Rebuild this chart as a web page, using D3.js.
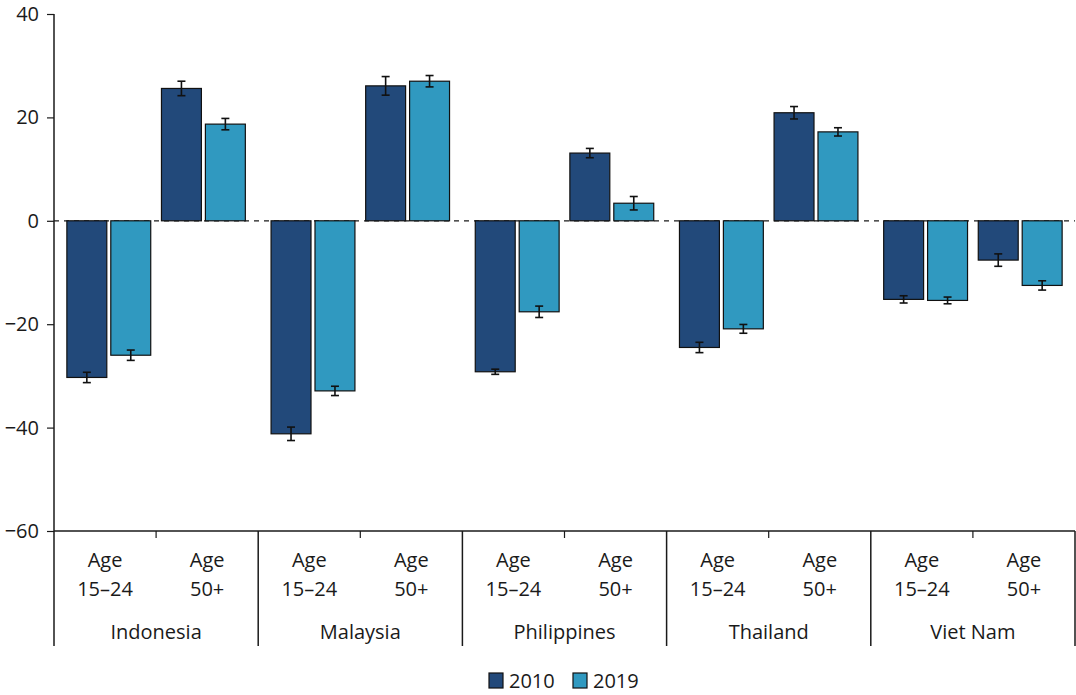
<!DOCTYPE html>
<html>
<head>
<meta charset="utf-8">
<script src="https://cdn.jsdelivr.net/npm/d3@7"></script>
<style>
  html, body { margin: 0; padding: 0; background: #fff; overflow: hidden; }
  svg { display: block; }
  text { font-family: 'Open Sans', sans-serif; fill: #1a1a1a; }
</style>
</head>
<body>
<svg id="chart" width="1076" height="695"></svg>
<script>
// data
const countries = ["Indonesia", "Malaysia", "Philippines", "Thailand", "Viet Nam"]
const ageGroups = ["Age 15–24", "Age 50+"]
const years = ["2010", "2019"]

// one array per age group and year, in country order
const values2010_young = [-30.3, -41.2, -29.2, -24.5, -15.2]
const values2019_young = [-26.0, -32.9, -17.6, -20.9, -15.4]
const values2010_old = [25.6, 26.1, 13.1, 20.9, -7.6]
const values2019_old = [18.7, 27.0, 3.4, 17.2, -12.5]
const err2010_young = [1.0, 1.3, 0.5, 1.0, 0.7]
const err2019_young = [1.0, 0.9, 1.1, 0.85, 0.65]
const err2010_old = [1.4, 1.8, 0.9, 1.2, 1.2]
const err2019_old = [1.1, 1.1, 1.3, 0.8, 0.9]
const yTicks = [40, 20, 0, -20, -40, -60]

const color = d3.scaleOrdinal().domain(years).range(["#22497a", "#3099c0"])

// flatten into rows for drawing
const rows = []
countries.forEach((c, i) => {
  rows.push({ country: c, age: ageGroups[0], year: "2010", value: values2010_young[i], err: err2010_young[i] })
  rows.push({ country: c, age: ageGroups[0], year: "2019", value: values2019_young[i], err: err2019_young[i] })
  rows.push({ country: c, age: ageGroups[1], year: "2010", value: values2010_old[i], err: err2010_old[i] })
  rows.push({ country: c, age: ageGroups[1], year: "2019", value: values2019_old[i], err: err2019_old[i] })
})

const margin = { top: 14, left: 54, right: 1, bottom: 164 }
const width = 1076
const innerWidth = width - margin.left - margin.right
const innerHeight = 695 - margin.top - margin.bottom

const svg = d3.select("#chart")
const g = svg.append("g").attr("transform", `translate(${margin.left},${margin.top})`)

const x0 = d3.scaleBand().domain(countries).range([0, innerWidth])
const x1 = d3.scaleBand().domain(ageGroups).range([0, x0.bandwidth()]).paddingInner(0.1135).paddingOuter(0.136)
const x2 = d3.scaleBand().domain(years).range([0, x1.bandwidth()]).paddingInner(0.0909)
// label positions: plain halves of each country
const xLabel = d3.scaleBand().domain(ageGroups).range([0, x0.bandwidth()])

const y = d3.scaleLinear().domain([-60, 40]).range([innerHeight, 0])

// y axis
const yAxis = g.append("g")
  .call(d3.axisLeft(y).tickValues(yTicks).tickSize(7).tickPadding(8))
yAxis.select(".domain").remove()
yAxis.selectAll("line").attr("stroke", "#1a1a1a").attr("stroke-width", 1.2)
yAxis.selectAll("text").style("font-size", "20px").attr("fill", "#1a1a1a")

g.append("line")
  .attr("x1", 0).attr("x2", 0)
  .attr("y1", 0).attr("y2", innerHeight + 115)
  .attr("stroke", "#1a1a1a").attr("stroke-width", 1.5)

// bottom axis line
g.append("line")
  .attr("x1", 0).attr("x2", innerWidth)
  .attr("y1", y(-60)).attr("y2", y(-60))
  .attr("stroke", "#1a1a1a").attr("stroke-width", 1.5)

// group separators and middle ticks
countries.forEach(c => {
  g.append("line")
    .attr("x1", x0(c) + x0.bandwidth()).attr("x2", x0(c) + x0.bandwidth())
    .attr("y1", innerHeight).attr("y2", innerHeight + 115)
    .attr("stroke", "#1a1a1a").attr("stroke-width", 1.5)
  g.append("line")
    .attr("x1", x0(c) + xLabel(ageGroups[1])).attr("x2", x0(c) + xLabel(ageGroups[1]))
    .attr("y1", innerHeight).attr("y2", innerHeight + 7)
    .attr("stroke", "#1a1a1a").attr("stroke-width", 1.2)
})

// zero line
g.append("line")
  .attr("x1", 0).attr("x2", innerWidth)
  .attr("y1", y(0)).attr("y2", y(0))
  .attr("stroke", "#1a1a1a").attr("stroke-width", 1.2)
  .attr("stroke-dasharray", "5,5")

const barX = d => x0(d.country) + x1(d.age) + x2(d.year)

// bars
g.selectAll(".bar")
  .data(rows)
  .join("rect")
  .attr("class", "bar")
  .attr("x", barX)
  .attr("width", x2.bandwidth())
  .attr("y", d => y(Math.max(0, d.value)))
  .attr("height", d => Math.abs(y(d.value) - y(0)))
  .attr("fill", d => color(d.year))
  .attr("stroke", "#111")
  .attr("stroke-width", 1.2)

// error bars
const errG = g.selectAll(".err")
  .data(rows)
  .join("g")
  .attr("class", "err")
  .attr("stroke", "#111")
  .attr("stroke-width", 1.6)
errG.append("line")
  .attr("x1", d => barX(d) + x2.bandwidth() / 2)
  .attr("x2", d => barX(d) + x2.bandwidth() / 2)
  .attr("y1", d => y(d.value - d.err))
  .attr("y2", d => y(d.value + d.err))
errG.append("line")
  .attr("x1", d => barX(d) + x2.bandwidth() / 2 - 4)
  .attr("x2", d => barX(d) + x2.bandwidth() / 2 + 4)
  .attr("y1", d => y(d.value - d.err))
  .attr("y2", d => y(d.value - d.err))
errG.append("line")
  .attr("x1", d => barX(d) + x2.bandwidth() / 2 - 4)
  .attr("x2", d => barX(d) + x2.bandwidth() / 2 + 4)
  .attr("y1", d => y(d.value + d.err))
  .attr("y2", d => y(d.value + d.err))

// category labels
countries.forEach(c => {
  ageGroups.forEach(a => {
    const cx = x0(c) + xLabel(a) + xLabel.bandwidth() / 2
    const parts = a.split(" ")
    g.append("text")
      .attr("x", cx).attr("y", innerHeight + 36)
      .attr("text-anchor", "middle")
      .style("font-size", "20px")
      .text(parts[0])
    g.append("text")
      .attr("x", cx).attr("y", innerHeight + 65)
      .attr("text-anchor", "middle")
      .style("font-size", "20px")
      .text(parts[1])
  })
  g.append("text")
    .attr("x", x0(c) + x0.bandwidth() / 2).attr("y", innerHeight + 108)
    .attr("text-anchor", "middle")
    .style("font-size", "20px")
    .text(c)
})

// legend
const legend = svg.append("g").attr("transform", "translate(489,673)")
const legendX = [0, 84]
years.forEach((yr, i) => {
  legend.append("rect")
    .attr("x", legendX[i]).attr("y", 0)
    .attr("width", 14).attr("height", 15)
    .attr("fill", color(yr))
    .attr("stroke", "#111").attr("stroke-width", 1.2)
  legend.append("text")
    .attr("x", legendX[i] + 20).attr("y", 15)
    .style("font-size", "20px")
    .text(yr)
})
</script>
</body>
</html>
